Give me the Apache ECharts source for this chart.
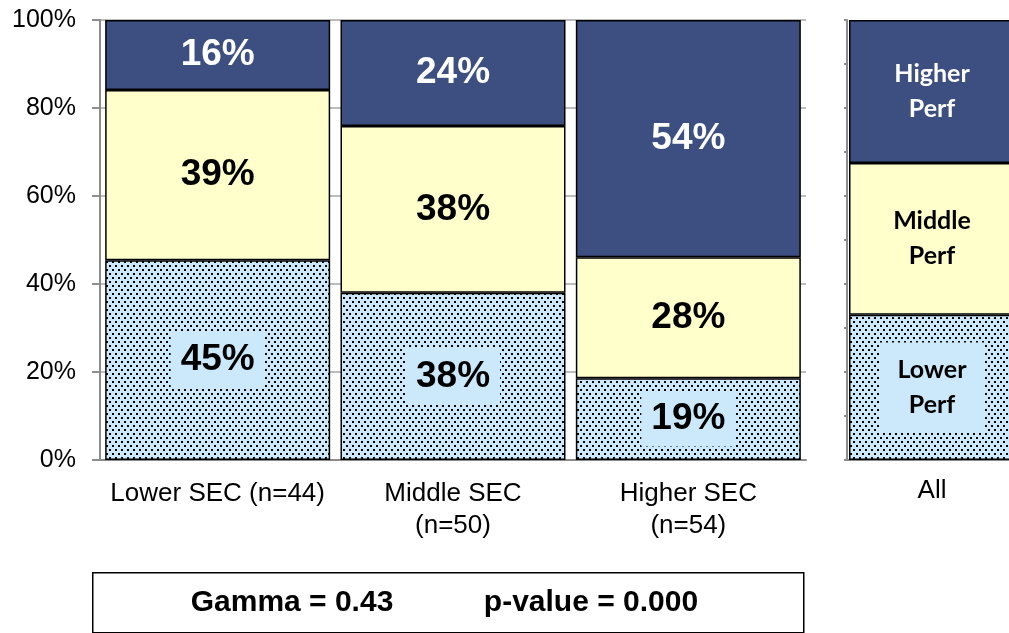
<!DOCTYPE html>
<html>
<head>
<meta charset="utf-8">
<script src="https://cdn.jsdelivr.net/npm/echarts@6/dist/echarts.min.js"></script>
<style>
  html, body { margin: 0; padding: 0; background: #fff; }
  #chart { width: 1009px; height: 633px; }
</style>
</head>
<body>
<div id="chart"></div>
<script>
/* ---------- data ---------- */
const categories = ['Lower SEC (n=44)', 'Middle SEC\n(n=50)', 'Higher SEC\n(n=54)'];
const lowerPerf  = [45.4, 38.0, 18.6];
const middlePerf = [38.7, 37.9, 27.5];
const higherPerf = [15.9, 24.1, 53.9];

const allCategory = ['All'];
const allLower  = [33.0];
const allMiddle = [34.5];
const allHigher = [32.5];

const yTicks = [0, 20, 40, 60, 80, 100];

/* ---------- styles ---------- */
const navy = '#3c4f80';
const cream = '#ffffcc';
const paleBlue = '#cce9fb';
const gray = '#8c8c8c';

// dotted fill used for the lower band
function dotPattern() {
  const c = document.createElement('canvas');
  c.width = 6; c.height = 8;
  const ctx = c.getContext('2d');
  ctx.fillStyle = paleBlue;
  ctx.fillRect(0, 0, 6, 8);
  ctx.fillStyle = '#000';
  ctx.fillRect(1, 1, 2, 2);
  ctx.fillRect(4, 5, 2, 2);
  return c;
}
const dots = { image: dotPattern(), repeat: 'repeat' };

const chart = echarts.init(document.getElementById('chart'));

const pct = p => Math.round(p.value) + '%';
const bigLabel = { show: true, position: 'inside', fontFamily: 'Liberation Sans', fontWeight: 'bold', fontSize: 37, formatter: pct };
const perfLabel = { show: true, position: 'inside', fontFamily: 'Lato', fontWeight: 'bold', fontSize: 25, lineHeight: 35 };
const border = { borderColor: '#000', borderWidth: 1.5 };

function barSeries(name, data, xi, stack, color, label) {
  return {
    name: name, type: 'bar', stack: stack, data: data,
    xAxisIndex: xi, yAxisIndex: xi,
    barWidth: xi === 0 ? 225 : 166,
    itemStyle: Object.assign({ color: color }, border),
    label: label,
    emphasis: { disabled: true },
    animation: false
  };
}

chart.setOption({
  animation: false,
  grid: [
    { left: 100, top: 20, width: 706, height: 440, outerBoundsMode: 'none' },
    { left: 847, top: 20, width: 170, height: 440, outerBoundsMode: 'none' }
  ],
  xAxis: [
    {
      type: 'category', gridIndex: 0, data: categories,
      axisLine: { lineStyle: { color: gray, width: 2 } },
      axisTick: { length: 8, lineStyle: { color: gray, width: 2 } },
      axisLabel: { interval: 0, color: '#000', fontFamily: 'Liberation Sans', fontSize: 26, lineHeight: 32, margin: 18 }
    },
    {
      type: 'category', gridIndex: 1, data: allCategory,
      axisLine: { lineStyle: { color: gray, width: 2 } },
      axisTick: { length: 8, lineStyle: { color: gray, width: 2 } },
      axisLabel: { interval: 0, color: '#000', fontFamily: 'Liberation Sans', fontSize: 26, margin: 18 }
    }
  ],
  yAxis: [
    {
      type: 'value', gridIndex: 0, min: yTicks[0], max: yTicks[yTicks.length - 1], interval: 20,
      axisLine: { show: true, lineStyle: { color: gray, width: 2 } },
      axisTick: { show: true, length: 8, lineStyle: { color: gray, width: 2 } },
      axisLabel: { color: '#000', fontFamily: 'Liberation Sans', fontSize: 25, margin: 24, formatter: '{value}%' },
      splitLine: { show: true, lineStyle: { color: '#a6a6a6', width: 1.5 } }
    },
    {
      type: 'value', gridIndex: 1, min: 0, max: 100, interval: 10,
      axisLine: { show: true, lineStyle: { color: gray, width: 2 } },
      axisTick: { show: true, length: 3, lineStyle: { color: gray, width: 2 } },
      axisLabel: { show: false },
      splitLine: { show: false }
    }
  ],
  series: [
    barSeries('Lower Perf', lowerPerf, 0, 'sec', dots,
      Object.assign({}, bigLabel, { color: '#000', backgroundColor: paleBlue, padding: [9, 10] })),
    barSeries('Middle Perf', middlePerf, 0, 'sec', cream, Object.assign({}, bigLabel, { color: '#000' })),
    barSeries('Higher Perf', higherPerf, 0, 'sec', navy, Object.assign({}, bigLabel, { color: '#fff' })),

    barSeries('Lower Perf', allLower, 1, 'all', dots,
      Object.assign({}, perfLabel, { color: '#000', backgroundColor: paleBlue, padding: [10, 18], formatter: 'Lower\nPerf' })),
    barSeries('Middle Perf', allMiddle, 1, 'all', cream,
      Object.assign({}, perfLabel, { color: '#000', formatter: 'Middle\nPerf' })),
    barSeries('Higher Perf', allHigher, 1, 'all', navy,
      Object.assign({}, perfLabel, { color: '#fff', formatter: 'Higher\nPerf' }))
  ],
  graphic: [
    {
      type: 'rect', left: 92, top: 572, z: 10,
      shape: { width: 711, height: 60 },
      style: { fill: '#fff', stroke: '#000', lineWidth: 1.5 }
    },
    {
      type: 'text', x: 292, y: 603, z: 11,
      style: { text: 'Gamma = 0.43', fontFamily: 'Liberation Sans', fontWeight: 'bold', fontSize: 30,
               fill: '#000', align: 'center', verticalAlign: 'middle' }
    },
    {
      type: 'text', x: 591, y: 603, z: 11,
      style: { text: 'p-value = 0.000', fontFamily: 'Liberation Sans', fontWeight: 'bold', fontSize: 30,
               fill: '#000', align: 'center', verticalAlign: 'middle' }
    }
  ]
});

window.onresize = function () { chart.resize(); };
</script>
</body>
</html>
